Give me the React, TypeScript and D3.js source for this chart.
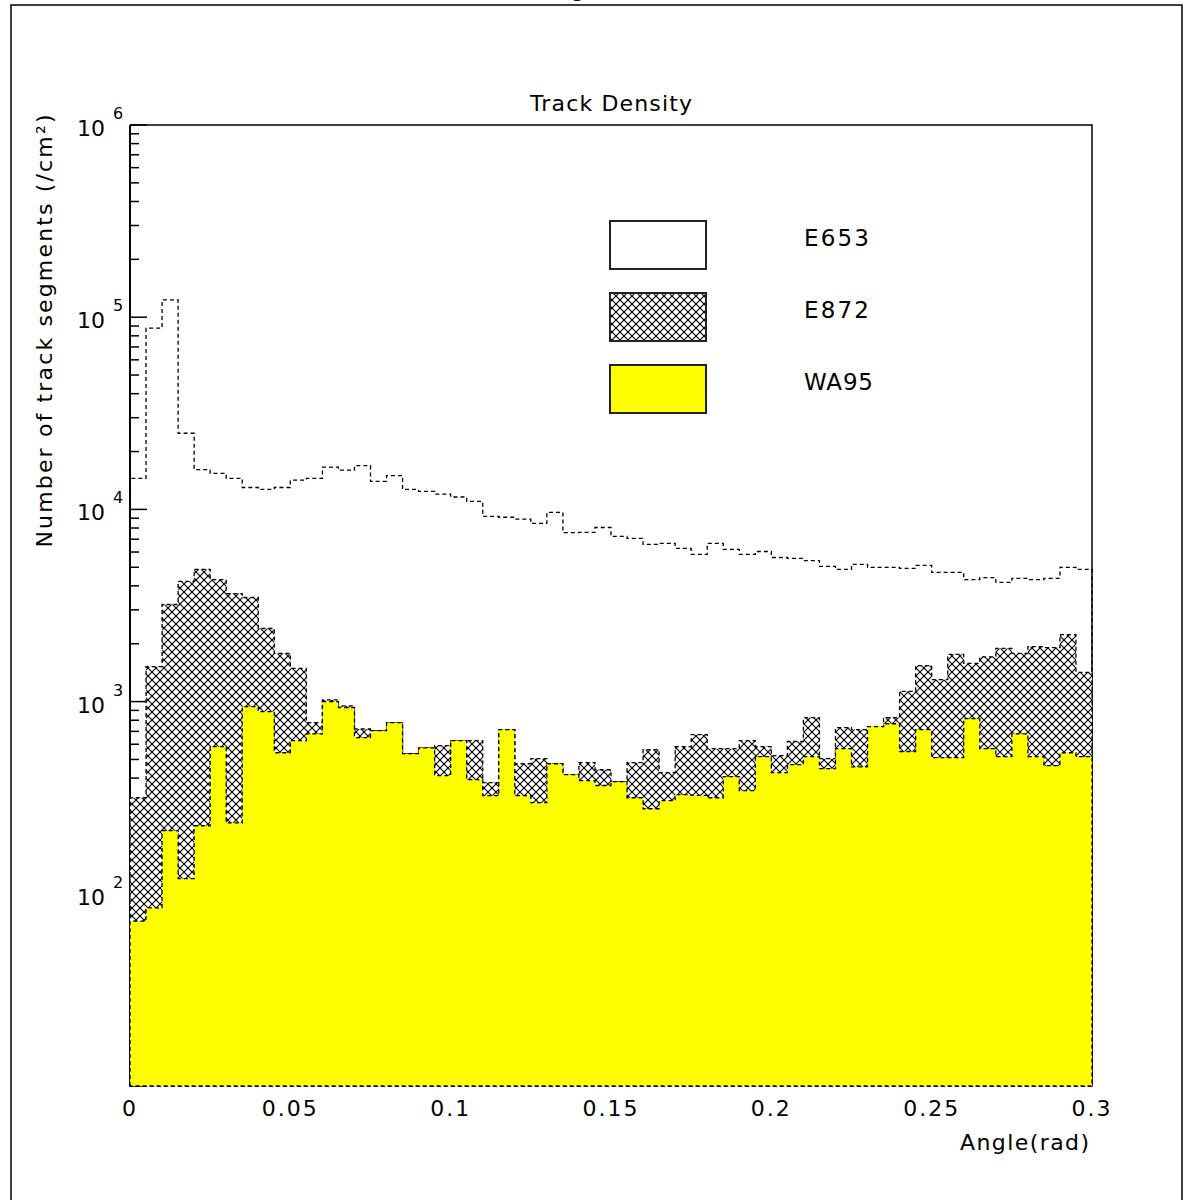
import React from 'react';
import * as d3 from 'd3';

// ---- data (60 bins of 0.005 rad from 0 to 0.3) ----
const binWidth = 0.005;
const e653 = [14500, 87700, 123000, 24900, 16100, 15400, 14500, 13000, 12700, 13000,
  14200, 14500, 16600, 16000, 16900, 14000, 15000, 12700, 12400, 12000,
  11600, 11000, 9200, 9100, 8900, 8450, 9650, 7580, 7600, 8050,
  7230, 7060, 6570, 6650, 6270, 5830, 6650, 6190, 5830, 6040,
  5620, 5560, 5420, 5050, 4870, 5180, 4990, 4990, 4930, 5110,
  4700, 4700, 4310, 4420, 4170, 4380, 4310, 4380, 4990, 4870];
const e872 = [316, 1520, 3200, 4220, 4870, 4310, 3650, 3480, 2400, 1780,
  1490, 778, 1020, 950, 720, 706, 778, 536, 575, 590,
  627, 627, 379, 715, 475, 505, 475, 417, 481, 442,
  383, 481, 562, 427, 583, 673, 569, 569, 627, 583,
  523, 620, 826, 505, 733, 715, 741, 826, 1130, 1540,
  1300, 1760, 1580, 1710, 1890, 1780, 1930, 1910, 2230, 1420];
const wa95 = [72, 84.5, 213, 120, 226, 583, 234, 942, 887, 542,
  627, 680, 1000, 930, 650, 706, 778, 536, 575, 412,
  627, 393, 324, 715, 324, 298, 475, 417, 388, 366,
  383, 316, 277, 305, 328, 325, 316, 407, 344, 517,
  427, 470, 517, 448, 569, 458, 741, 767, 550, 715,
  511, 511, 815, 569, 517, 680, 517, 464, 542, 517];
const xTicks = [0, 0.05, 0.1, 0.15, 0.2, 0.25, 0.3];
const xTickLabels = ['0', '0.05', '0.1', '0.15', '0.2', '0.25', '0.3'];
const yDecades = [2, 3, 4, 5, 6];
const legendLabels = ['E653', 'E872', 'WA95'];
const titleText = 'Track Density';
const xTitle = 'Angle(rad)';
const yTitle = 'Number of track segments (/cm²)';

const W = 1196, H = 1200;
const FONT = '"DejaVu Sans", sans-serif';

export default function App() {
  const x = d3.scaleLinear().domain([0, 0.3]).range([130, 1092]);
  const y = d3.scaleLog().domain([10, 1e6]).range([1086, 125]);
  const base = y(10);

  const stepPath = (vals: number[], close: boolean) => {
    let d = `M${x(0)},${base}`;
    vals.forEach((v, i) => {
      d += `V${y(v)}H${x((i + 1) * binWidth)}`;
    });
    d += `V${base}`;
    if (close) d += 'Z';
    return d;
  };

  const majors: number[] = [];
  const minors: number[] = [];
  for (let e = 1; e <= 6; e++) {
    majors.push(Math.pow(10, e));
    if (e < 6) for (let k = 2; k <= 9; k++) minors.push(k * Math.pow(10, e));
  }

  const legendY = [221, 293, 365];
  const legendFills = ['white', 'url(#xhatch)', '#ffff00'];
  const legendText = [65, 65, 69];

  return (
    <svg width={W} height={H} style={{ position: 'absolute', left: 0, top: 0, background: 'white' }}
      fontFamily={FONT}>
      <defs>
        <pattern id="xhatch" patternUnits="userSpaceOnUse" width={8} height={8}>
          <rect width={8} height={8} fill="white" />
          <path d="M0,0L8,8M0,8L8,0" stroke="black" strokeWidth={1.1} />
          <rect x={3} y={3} width={2} height={2} fill="black" />
        </pattern>
      </defs>
      <rect x={0} y={0} width={W} height={H} fill="white" />
      {/* outer window frame */}
      <path d={`M11,${H}V5H1182V${H}`} fill="none" stroke="black" strokeWidth={1.5} />
      {/* clipped top title fragment, as in the reference */}
      <text x={578} y={-3} fontSize={22} textAnchor="middle" fill="black">g</text>

      {/* title */}
      <text x={611} y={111} fontSize={22} textAnchor="middle" textLength={162} lengthAdjust="spacing">{titleText}</text>

      {/* frame */}
      <path d={`M${x(0)},${y(1e6)}H${x(0.3)}V${base}`} fill="none" stroke="black" strokeWidth={1.5} />
      <line x1={x(0)} x2={x(0)} y1={y(1e6)} y2={base} stroke="black" strokeWidth={2} />
      {majors.map((v) => (
        <line key={'M' + v} x1={x(0)} x2={x(0) + 17} y1={y(v)} y2={y(v)} stroke="black" strokeWidth={1.5} />
      ))}
      {minors.map((v) => (
        <line key={'m' + v} x1={x(0)} x2={x(0) + 9} y1={y(v)} y2={y(v)} stroke="black" strokeWidth={1.5} />
      ))}
      {yDecades.map((e) => (
        <g key={'yl' + e}>
          <text x={77} y={y(Math.pow(10, e)) + 11} fontSize={22}>10</text>
          <text x={113} y={y(Math.pow(10, e)) - 6} fontSize={16}>{String(e)}</text>
        </g>
      ))}

      {/* histograms */}
      <path d={stepPath(e653, false)} fill="none" stroke="black" strokeWidth={1.3} strokeDasharray="4,3" />
      <path d={stepPath(e872, true)} fill="url(#xhatch)" stroke="black" strokeWidth={1.3} strokeDasharray="4,3" />
      <path d={stepPath(wa95, true)} fill="#ffff00" stroke="black" strokeWidth={1.3} strokeDasharray="4,3" />

      {/* x tick labels */}
      {xTicks.map((t, i) => (
        <text key={'xt' + t} x={x(t)} y={1116} fontSize={22} textAnchor="middle" letterSpacing={2}>{xTickLabels[i]}</text>
      ))}
      <text x={1089} y={1150} fontSize={22} textAnchor="end" textLength={129} lengthAdjust="spacing">{xTitle}</text>

      {/* y title */}
      <text transform="translate(52,331) rotate(-90)" fontSize={22} textAnchor="middle" textLength={433} lengthAdjust="spacing">{yTitle}</text>

      {/* legend */}
      {legendLabels.map((lab, i) => (
        <g key={lab}>
          <rect x={610} y={legendY[i]} width={96} height={48} fill={legendFills[i]} stroke="#222" strokeWidth={2} />
          <text x={804} y={legendY[i] + 25} fontSize={23} textLength={legendText[i]} lengthAdjust="spacing">{lab}</text>
        </g>
      ))}
    </svg>
  );
}
